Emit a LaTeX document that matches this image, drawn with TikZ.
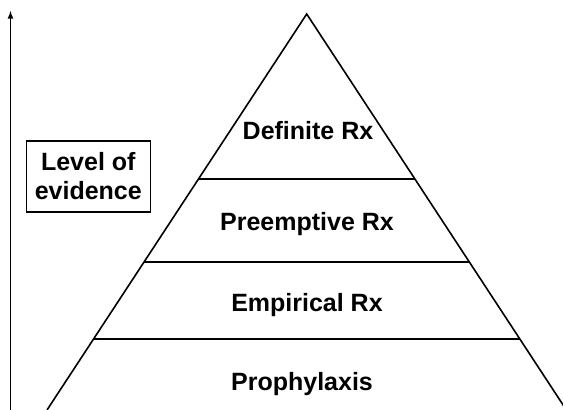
\documentclass[tikz,border=0pt]{standalone}
\usepackage{fontspec}
\setmainfont{Liberation Sans}
\usetikzlibrary{calc}
\tikzset{
side/.style = {line width = 1.6pt, color = black},
layerline/.style = {line width = 1.6pt, color = black},
layerlabel/.style = {anchor = base, font = \fontsize{25}{30}\selectfont\bfseries, inner sep = 0pt},
evidencebox/.style = {draw, line width = 1.3pt, align = center, minimum width = 124pt, minimum height = 71pt, inner sep = 0pt, font = \fontsize{25}{29}\selectfont\bfseries}}

\begin{document}
\begin{tikzpicture}[x=1pt,y=-1pt]
%
\useasboundingbox (0,0) rectangle (563,410);
%
%''''''''''''''''''''''''''''Pyramid corners''''''''''''''''''''''''''''''''''''''''''''''''''''''''''''
\coordinate (apex) at (306.7,14); % top of pyramid
\coordinate (bl) at (47,410); % lower left corner
\coordinate (br) at (566.4,410); % lower right corner
%''''''''''''''''''''''''''''''''''''''''''''''''''''''''''''''''''''''''''''''''''''''''''''''''''''''''
%
% draw sides
\draw[side](bl)--(apex)--(br);
\draw[line width = 1pt, color = black!15](bl)--(br);
%
% draw layer borders
\foreach \t in {0.4167,0.6263,0.8207}
  \draw[layerline]($(apex)!\t!(bl)$)--($(apex)!\t!(br)$);
%
% layer labels
\node[layerlabel] (definite) at (308,139.3) {Definite Rx};
\node[layerlabel] (preemptive) at (307,230) {Preemptive Rx};
\node[layerlabel] (empirical) at (307,311.7) {Empirical Rx};
\node[layerlabel] (prophylaxis) at (302,390) {Prophylaxis};
%
%----------------------------------------------------------------------------------
% evidence axis
\coordinate (axisbot) at (10.5,410);
\coordinate (axistop) at (10.5,11);
\draw[line width = 1.6pt,-latex](axisbot)--(axistop);
\node[evidencebox] (level) at (88.3,176.5) {Level of\\evidence};
%----------------------------------------------------------------------------------
%
\end{tikzpicture}
\end{document}
